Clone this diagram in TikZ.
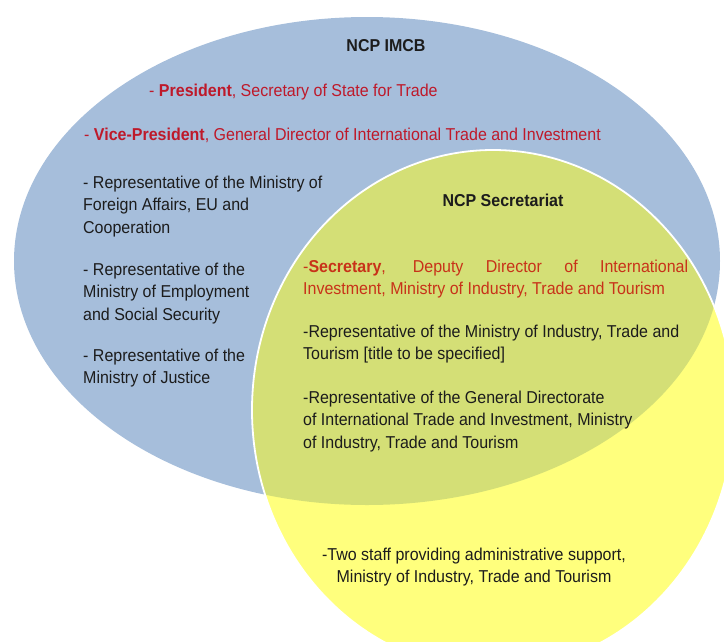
\documentclass[tikz,border=0pt]{standalone}
\usepackage{fontspec}
\setmainfont[FakeStretch=0.93]{Liberation Sans}
\definecolor{imcbblue}{RGB}{166,190,219}
\definecolor{secyellow}{RGB}{255,255,125}
\definecolor{overlapgreen}{RGB}{212,223,118}
\definecolor{chairred}{RGB}{190,25,42}
\definecolor{secyred}{RGB}{200,50,25}
\definecolor{inkblack}{RGB}{28,28,28}
\begin{document}
\begin{tikzpicture}[x=1pt,y=1pt,
  body/.style={inner sep=0pt,text=inkblack,font=\fontsize{17.2}{22.7}\selectfont},
  heading/.style={body,font=\fontsize{17.2}{22.7}\selectfont\bfseries,anchor=base},
  para/.style={body,anchor=north west,align=left}]
\clip (0,0) rectangle (724,-641);
\fill[imcbblue] (367,-261) ellipse [x radius=353pt, y radius=244pt];
\fill[secyellow] (493,-410) ellipse [x radius=241pt, y radius=260pt];
\begin{scope}
\clip (367,-261) ellipse [x radius=353pt, y radius=244pt];
\fill[overlapgreen] (493,-410) ellipse [x radius=241pt, y radius=260pt];
\end{scope}
\draw[white, line width=1.8pt] (493,-410) ellipse [x radius=241pt, y radius=260pt];

\node[heading] (imcb) at (386,-51) {NCP IMCB};
\node[body,anchor=base west,text=chairred] (pres) at (149,-96) {- \textbf{President}, Secretary of State for Trade};
\node[body,anchor=base west,text=chairred] (vice) at (84,-140) {- \textbf{Vice-President}, General Director of International Trade and Investment};
\node[para] (foreign) at (83,-175.5) {- Representative of the Ministry of\\Foreign Affairs, EU and\\Cooperation};
\node[para] (employ) at (83,-262.5) {- Representative of the\\Ministry of Employment\\and Social Security};
\node[para] (justice) at (83,-348.5) {- Representative of the\\Ministry of Justice};

\node[heading] (secr) at (503,-206) {NCP Secretariat};
\node[para,text width=385pt,align=justify,text=secyred] (secy) at (303,-259.5) {-\textbf{Secretary}, Deputy Director of International\linebreak Investment, Ministry of Industry, Trade and Tourism};
\node[para] (industry) at (303,-324.5) {-Representative of the Ministry of Industry, Trade and\\Tourism [title to be specified]};
\node[para] (directorate) at (303,-390.5) {-Representative of the General Directorate\\of International Trade and Investment, Ministry\\of Industry, Trade and Tourism};

\node[body,anchor=north,align=center] (staff) at (474,-547.5) {-Two staff providing administrative support,\\ Ministry of Industry, Trade and Tourism};
\end{tikzpicture}
\end{document}
